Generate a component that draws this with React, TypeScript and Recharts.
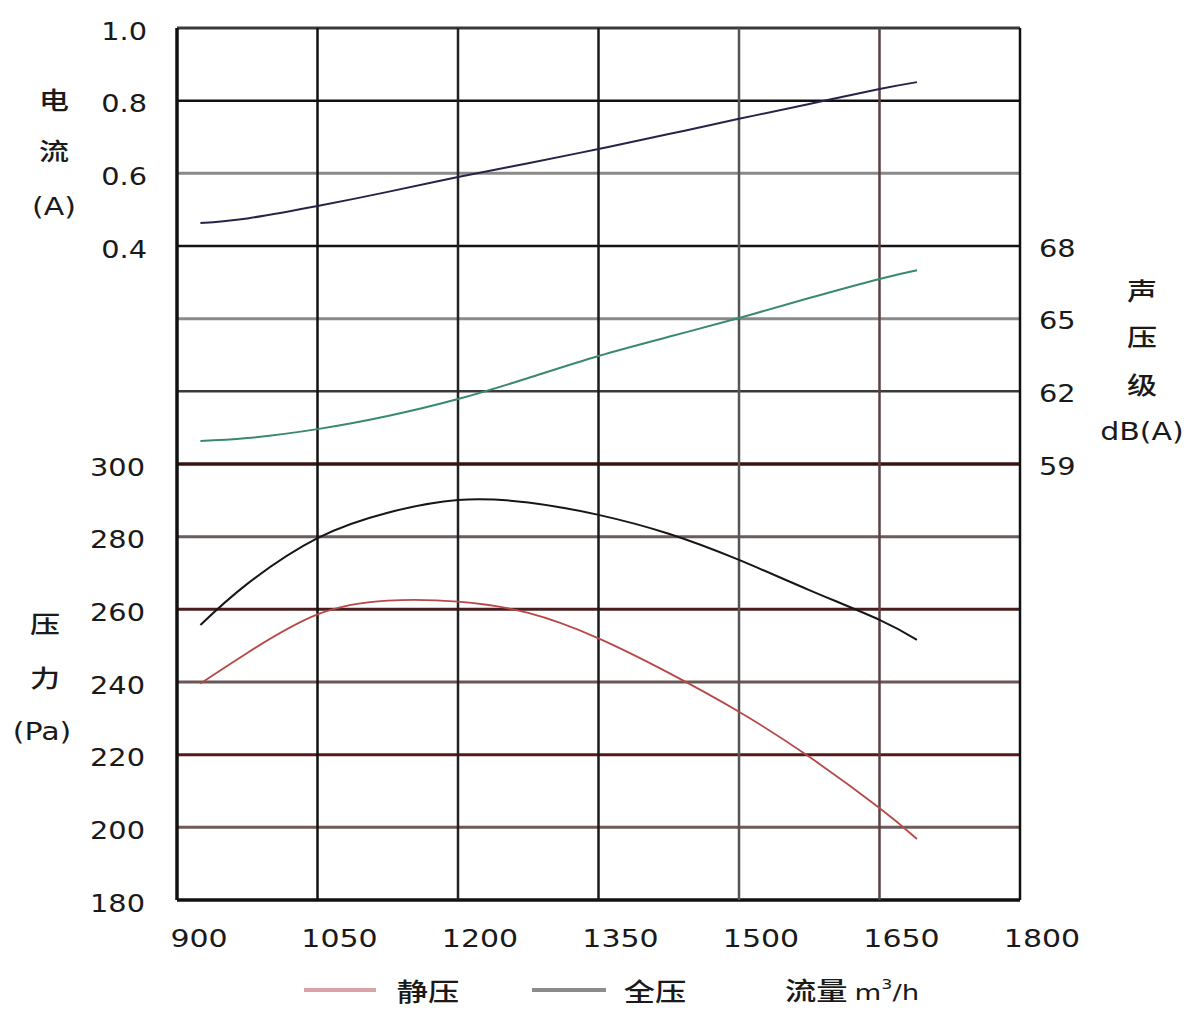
import React from 'react';
import { LineChart, Line, XAxis, YAxis, ReferenceLine } from 'recharts';

// ---- data ----
const flow = [925, 975, 1050, 1125, 1200, 1275, 1350, 1425, 1500, 1575, 1650, 1690];
const currentA = [0.463, 0.476, 0.51, 0.549, 0.59, 0.628, 0.667, 0.708, 0.75, 0.791, 0.832, 0.851];
const soundDb = [59.95, 60.07, 60.44, 60.98, 61.68, 62.55, 63.46, 64.25, 65.03, 65.85, 66.64, 67.0];
const totalPa = [255.7, 267.0, 279.6, 286.6, 290.1, 289.4, 286.0, 280.8, 273.6, 265.3, 257.1, 251.6];
const staticPa = [239.6, 248.0, 258.6, 262.4, 262.1, 259.0, 252.0, 242.5, 231.8, 219.4, 205.3, 196.8];

const flowTicks = [900, 1050, 1200, 1350, 1500, 1650, 1800];
const pressureTicks = [180, 200, 220, 240, 260, 280, 300];
const currentTicks = [0.4, 0.6, 0.8, 1.0];
const soundTicks = [59, 62, 65, 68];

const data = flow.map((f, i) => ({
  flow: f,
  current: currentA[i],
  sound: soundDb[i],
  total: totalPa[i],
  static: staticPa[i],
}));

// ---- styles ----
const NUM_FONT = '"DejaVu Sans", "Liberation Sans", Arial, sans-serif';
const CJK_FONT = '"Noto Sans CJK SC", "DejaVu Sans", sans-serif';
const TEXT = '#1a1a1a';

const hGrid = [
  { id: 'a', v: 1.0, c: '#3a3a3a', w: 3 },
  { id: 'a', v: 0.8, c: '#111111', w: 2.5 },
  { id: 'a', v: 0.6, c: '#8a8a8a', w: 3 },
  { id: 'a', v: 0.4, c: '#151515', w: 2.5 },
  { id: 's', v: 65, c: '#8a8a8a', w: 3 },
  { id: 's', v: 62, c: '#3a3a3a', w: 2.5 },
  { id: 'p', v: 300, c: '#3a1212', w: 3.5 },
  { id: 'p', v: 280, c: '#6e5a5a', w: 3 },
  { id: 'p', v: 260, c: '#4a1e1e', w: 3 },
  { id: 'p', v: 240, c: '#6a5656', w: 3 },
  { id: 'p', v: 220, c: '#561a1a', w: 3 },
  { id: 'p', v: 200, c: '#6e5a5a', w: 3 },
  { id: 'p', v: 180, c: '#111111', w: 3.5 },
];
const vGrid = [
  { v: 900, c: '#111111', w: 3.5 },
  { v: 1050, c: '#111111', w: 2.5 },
  { v: 1200, c: '#222222', w: 2.5 },
  { v: 1350, c: '#1a1a1a', w: 2.5 },
  { v: 1500, c: '#555555', w: 2.5 },
  { v: 1650, c: '#5a4040', w: 2.5 },
  { v: 1800, c: '#111111', w: 2.5 },
];

const TickText = ({ x, y, anchor, label, size = 24 }: any) => (
  <g transform={`translate(${x},${y})`}>
    <text
      transform="scale(1.2,1)"
      textAnchor={anchor}
      dy="0.36em"
      fontFamily={NUM_FONT}
      fontSize={size}
      fill={TEXT}
    >
      {label}
    </text>
  </g>
);

const Label = ({ x, y, text, font = CJK_FONT, size = 24, weight = 500 }: any) => (
  <div
    style={{
      position: 'absolute',
      left: x,
      top: y,
      transform: 'translate(-50%,-50%) scaleX(1.25)',
      fontFamily: font,
      fontSize: size,
      fontWeight: weight,
      color: TEXT,
      whiteSpace: 'nowrap',
      lineHeight: 1,
    }}
  >
    {text}
  </div>
);

export default function App() {
  return (
    <div style={{ position: 'absolute', left: 0, top: 0, width: 1200, height: 1028, background: '#fff' }}>
      <LineChart
        width={1200}
        height={1028}
        data={data}
        margin={{ top: 28, right: 179, bottom: 127, left: 175 }}
      >
        <XAxis
          dataKey="flow"
          type="number"
          domain={[900, 1800]}
          ticks={flowTicks}
          allowDataOverflow
          height={1}
          axisLine={false}
          tickLine={false}
          tick={(p: any) => (
            <TickText key={p.payload.value} x={p.x + 22} y={p.y + 30} anchor="middle" label={String(p.payload.value)} size={25} />
          )}
        />
        <YAxis
          yAxisId="p"
          type="number"
          domain={[180, 420]}
          ticks={pressureTicks}
          allowDataOverflow
          width={1}
          axisLine={false}
          tickLine={false}
          tick={(p: any) => (
            <TickText key={p.payload.value} x={p.x - 23} y={p.y + 3} anchor="end" label={String(p.payload.value)} />
          )}
        />
        <YAxis
          yAxisId="a"
          type="number"
          domain={[-1.4, 1.0]}
          ticks={currentTicks}
          allowDataOverflow
          width={1}
          axisLine={false}
          tickLine={false}
          tick={(p: any) => (
            <TickText key={p.payload.value} x={p.x - 22} y={p.y + 3} anchor="end" label={Number(p.payload.value).toFixed(1)} />
          )}
        />
        <YAxis
          yAxisId="s"
          orientation="right"
          type="number"
          domain={[41, 77]}
          ticks={soundTicks}
          allowDataOverflow
          width={1}
          axisLine={false}
          tickLine={false}
          tick={(p: any) => (
            <TickText key={p.payload.value} x={p.x + 11} y={p.y + 2} anchor="start" label={String(p.payload.value)} />
          )}
        />

        {hGrid.map((g) => (
          <ReferenceLine key={`h-${g.id}-${g.v}`} yAxisId={g.id} y={g.v} stroke={g.c} strokeWidth={g.w} ifOverflow="extendDomain" />
        ))}
        {vGrid.map((g) => (
          <ReferenceLine key={`v-${g.v}`} yAxisId="p" x={g.v} stroke={g.c} strokeWidth={g.w} ifOverflow="extendDomain" />
        ))}

        <Line yAxisId="a" dataKey="current" type="natural" stroke="#24244a" strokeWidth={2} dot={false} isAnimationActive={false} />
        <Line yAxisId="s" dataKey="sound" type="natural" stroke="#3a8a6a" strokeWidth={2} dot={false} isAnimationActive={false} />
        <Line yAxisId="p" dataKey="total" type="natural" stroke="#161616" strokeWidth={2} dot={false} isAnimationActive={false} />
        <Line yAxisId="p" dataKey="static" type="natural" stroke="#b84848" strokeWidth={1.8} dot={false} isAnimationActive={false} />
      </LineChart>

      {/* axis titles */}
      <Label x={54} y={99} text="电" />
      <Label x={54} y={150} text="流" />
      <Label x={54} y={207} text="(A)" font={NUM_FONT} size={24} weight={400} />
      <Label x={45} y={623} text="压" />
      <Label x={45} y={677} text="力" />
      <Label x={42} y={732} text="(Pa)" font={NUM_FONT} size={24} weight={400} />
      <Label x={1142} y={290} text="声" />
      <Label x={1142} y={336} text="压" />
      <Label x={1142} y={384} text="级" />
      <Label x={1142} y={432} text="dB(A)" font={NUM_FONT} size={24} weight={400} />

      {/* legend */}
      <div style={{ position: 'absolute', left: 304, top: 988, width: 72, height: 4, background: '#d9a3a8' }} />
      <Label x={428} y={990} text="静压" size={25} />
      <div style={{ position: 'absolute', left: 532, top: 988, width: 74, height: 4, background: '#8c8c8c' }} />
      <Label x={655} y={990} text="全压" size={25} />
      <Label
        x={852}
        y={990}
        size={25}
        text={
          <span>
            流量 <span style={{ fontFamily: NUM_FONT, fontSize: 22, fontWeight: 400 }}>m<sup style={{ fontSize: 14, verticalAlign: 'top' }}>3</sup>/h</span>
          </span>
        }
      />
    </div>
  );
}
